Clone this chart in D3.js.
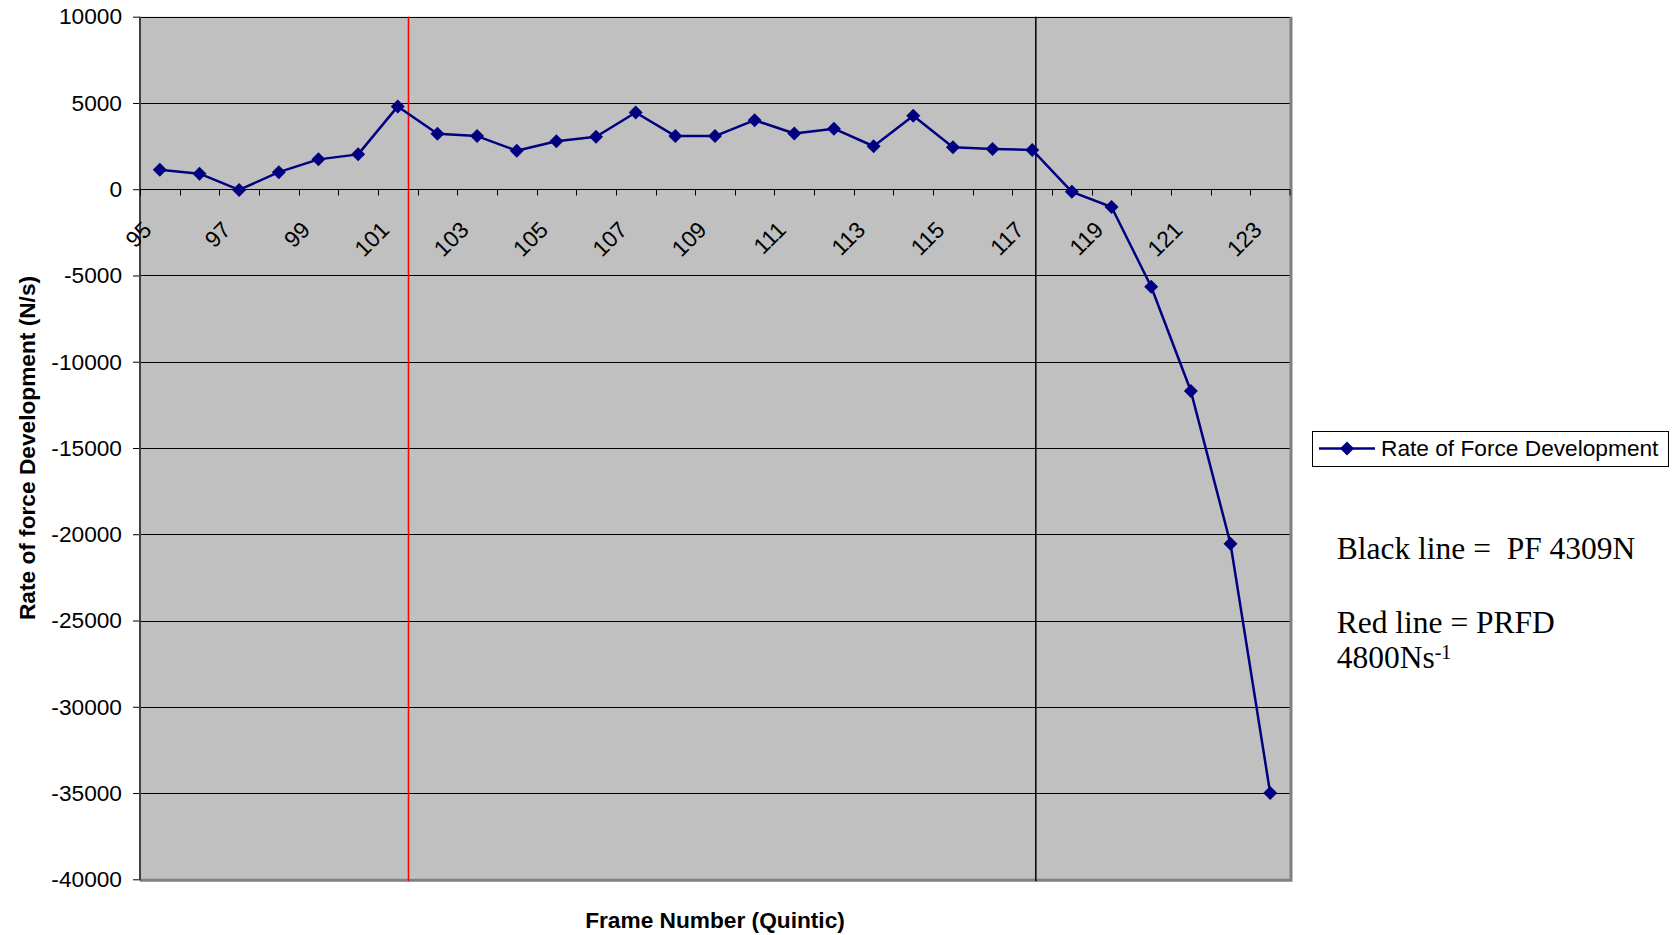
<!DOCTYPE html>
<html>
<head>
<meta charset="utf-8">
<script src="https://cdn.jsdelivr.net/npm/d3@7"></script>
<style>
  html, body { margin: 0; padding: 0; background: #ffffff; }
  svg { display: block; }
  text { font-family: "Liberation Sans", Arial, Helvetica, sans-serif; fill: #000; }
  .note { font-family: "Liberation Serif", "Times New Roman", serif; white-space: pre; }
</style>
</head>
<body>
<svg id="chart" width="1674" height="935"></svg>
<script>
// Frame numbers (Quintic) and the rate of force development at each frame (N/s)
const frames = [95, 96, 97, 98, 99, 100, 101, 102, 103, 104, 105, 106, 107, 108, 109,
                110, 111, 112, 113, 114, 115, 116, 117, 118, 119, 120, 121, 122, 123];
const rfd = [1130, 900, -40, 990, 1730, 2020, 4800, 3220, 3080, 2230, 2780, 3040, 4450, 3080, 3080,
             4000, 3230, 3510, 2490, 4260, 2430, 2330, 2280, -150, -1030, -5650, -11700, -20550, -35000];

const yTickValues = [10000, 5000, 0, -5000, -10000, -15000, -20000, -25000, -30000, -35000, -40000];
const xTickLabels = ["95", "97", "99", "101", "103", "105", "107", "109", "111", "113", "115", "117", "119", "121", "123"];

// Marker lines: peak rate of force development (red) and peak force (black)
const prfdFrame = 101.27;
const peakForceFrame = 117.09;

const seriesName = "Rate of Force Development";
const noteLines = ["Black line =  PF 4309N", "Red line = PRFD"];
const noteRate = "4800Ns";
const noteRateExp = "-1";

const plot = { left: 140, right: 1290, top: 16.7, bottom: 879.3 };
const svg = d3.select("#chart");

const x = d3.scaleBand().domain(frames).range([plot.left, plot.right]).padding(0);
const bw = x.bandwidth();
const cx = f => x(f) + bw / 2;
// continuous frame scale for the marker lines
const xf = d3.scaleLinear()
  .domain([frames[0], frames[frames.length - 1]])
  .range([cx(frames[0]), cx(frames[frames.length - 1])]);
const y = d3.scaleLinear().domain([-40000, 10000]).range([plot.bottom, plot.top]);

// plot area background
svg.append("rect")
  .attr("x", plot.left).attr("y", plot.top)
  .attr("width", plot.right - plot.left).attr("height", plot.bottom - plot.top)
  .attr("fill", "#c0c0c0");

// horizontal gridlines
svg.append("g").selectAll("line").data(yTickValues).join("line")
  .attr("x1", plot.left).attr("x2", plot.right)
  .attr("y1", d => Math.round(y(d)) + 0.5).attr("y2", d => Math.round(y(d)) + 0.5)
  .attr("stroke", "#000").attr("stroke-width", 1);

// plot area border
svg.append("path")
  .attr("d", `M${plot.left},${plot.bottom + 1}H${plot.right + 1}V${plot.top}`)
  .attr("fill", "none").attr("stroke", "#808080").attr("stroke-width", 3);

// marker lines
svg.append("line")
  .attr("x1", xf(prfdFrame)).attr("x2", xf(prfdFrame))
  .attr("y1", plot.top).attr("y2", plot.bottom + 2)
  .attr("stroke", "#ff0000").attr("stroke-width", 1.5);
svg.append("line")
  .attr("x1", xf(peakForceFrame)).attr("x2", xf(peakForceFrame))
  .attr("y1", plot.top).attr("y2", plot.bottom + 2)
  .attr("stroke", "#000").attr("stroke-width", 1.5);

// y axis (plain hyphen-minus in labels)
const yAxis = d3.axisLeft(y).tickValues(yTickValues).tickSize(7).tickPadding(11).tickFormat(d => String(d));
const gy = svg.append("g").attr("transform", `translate(${plot.left},0)`).call(yAxis);
gy.select(".domain").remove();
gy.selectAll(".tick line").attr("stroke", "#000");
gy.selectAll(".tick text").style("font-size", "22.7px").attr("fill", "#000");
svg.append("line")
  .attr("x1", plot.left).attr("x2", plot.left)
  .attr("y1", plot.top).attr("y2", plot.bottom + 1)
  .attr("stroke", "#404040").attr("stroke-width", 2);

// x axis along zero, ticks on category boundaries
const y0 = Math.round(y(0)) + 0.5;
const gx = svg.append("g");
gx.append("line")
  .attr("x1", plot.left).attr("x2", plot.right)
  .attr("y1", y0).attr("y2", y0)
  .attr("stroke", "#000").attr("stroke-width", 1);
gx.selectAll("line.tk").data(frames.concat(["end"])).join("line")
  .attr("class", "tk")
  .attr("x1", d => d === "end" ? plot.right : Math.round(x(d)) + 0.5)
  .attr("x2", d => d === "end" ? plot.right : Math.round(x(d)) + 0.5)
  .attr("y1", y0).attr("y2", y0 + 6)
  .attr("stroke", "#000").attr("stroke-width", 1);
gx.selectAll("text").data(xTickLabels).join("text")
  .attr("transform", d => `translate(${cx(+d) - 7},${y(0) + 42}) rotate(-45)`)
  .attr("text-anchor", "end")
  .style("font-size", "22.7px")
  .text(d => d);

// series
const line = d3.line().x((d, i) => cx(frames[i])).y(d => y(d));
svg.append("path")
  .datum(rfd)
  .attr("d", line)
  .attr("fill", "none")
  .attr("stroke", "#000080")
  .attr("stroke-width", 2.5)
  .attr("stroke-linejoin", "round");

const diamond = "M0,-7L7,0L0,7L-7,0Z";
svg.append("g").selectAll("path").data(rfd).join("path")
  .attr("d", diamond)
  .attr("transform", (d, i) => `translate(${cx(frames[i])},${y(d)})`)
  .attr("fill", "#000080");

// axis titles
svg.append("text")
  .attr("transform", `translate(35,${(plot.top + plot.bottom) / 2}) rotate(-90)`)
  .attr("text-anchor", "middle")
  .style("font-size", "22.7px").style("font-weight", "bold")
  .text("Rate of force Development (N/s)");
svg.append("text")
  .attr("x", (plot.left + plot.right) / 2).attr("y", 928)
  .attr("text-anchor", "middle")
  .style("font-size", "22.7px").style("font-weight", "bold")
  .text("Frame Number (Quintic)");

// legend
const lg = svg.append("g");
lg.append("rect")
  .attr("x", 1312.5).attr("y", 431.5).attr("width", 356).attr("height", 35)
  .attr("fill", "#fff").attr("stroke", "#000").attr("stroke-width", 1);
lg.append("line")
  .attr("x1", 1319).attr("x2", 1375).attr("y1", 448.5).attr("y2", 448.5)
  .attr("stroke", "#000080").attr("stroke-width", 2.5);
lg.append("path").attr("d", diamond).attr("transform", "translate(1347,448.5)").attr("fill", "#000080");
lg.append("text").attr("x", 1381).attr("y", 456).style("font-size", "22.7px").text(seriesName);

// notes
svg.append("text").attr("class", "note").attr("x", 1336.7).attr("y", 559.3)
  .style("font-size", "31.5px").text(noteLines[0]);
svg.append("text").attr("class", "note").attr("x", 1336.7).attr("y", 633.3)
  .style("font-size", "31.5px").text(noteLines[1]);
const rate = svg.append("text").attr("class", "note").attr("x", 1336.7).attr("y", 668.3)
  .style("font-size", "31.5px");
rate.append("tspan").text(noteRate);
rate.append("tspan").attr("dy", -9).style("font-size", "20px").text(noteRateExp);
</script>
</body>
</html>
